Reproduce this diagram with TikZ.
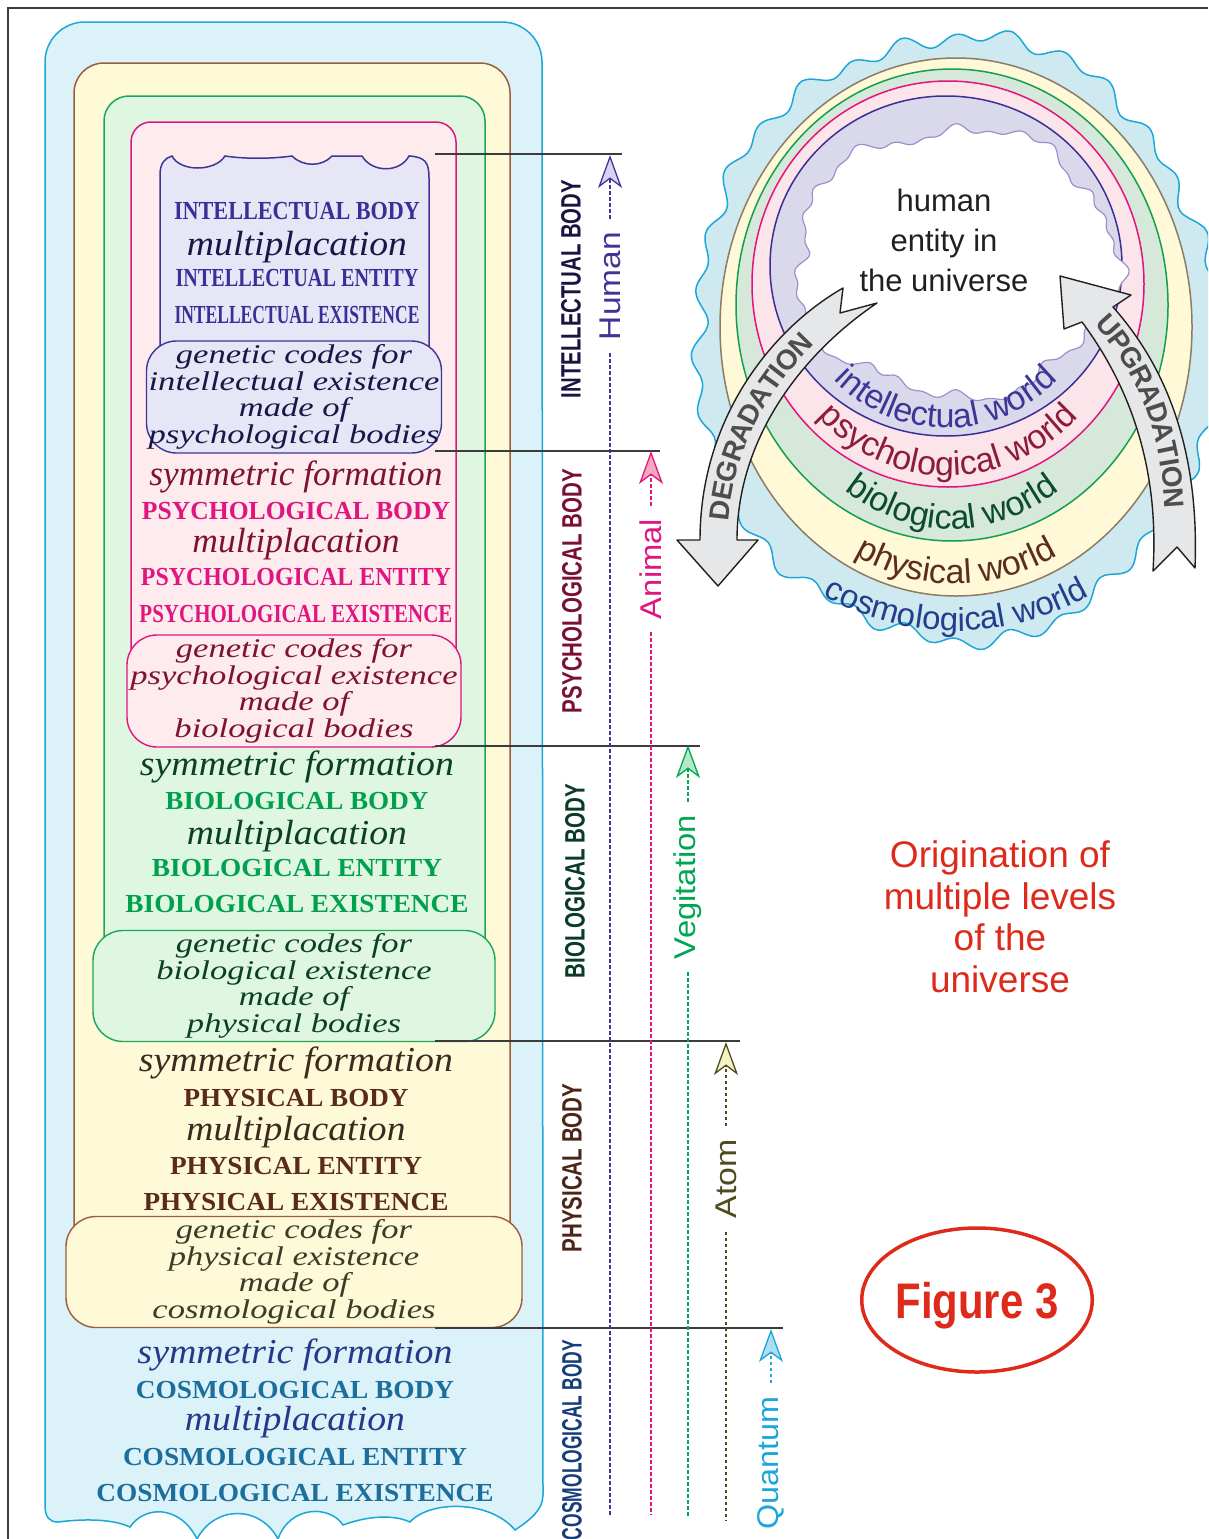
\documentclass[tikz,border=0pt]{standalone}
\usepackage{fontspec}
\setmainfont{Liberation Serif}
\setsansfont{Liberation Sans}
\newfontfamily\genfont[FakeStretch=1.28]{Liberation Serif}
\usepackage{xcolor}
\usepackage{graphicx}
\usepackage{tikz}
\usetikzlibrary{arrows.meta,shapes.geometric,decorations.text}
\definecolor{framegray}{HTML}{3C3C3C}
\definecolor{cosmofill}{HTML}{DAF2F8}
\definecolor{cosmoline}{HTML}{1BA8D8}
\definecolor{physfill}{HTML}{FEF9D6}
\definecolor{physline}{HTML}{9B5D40}
\definecolor{biofill}{HTML}{DFF7E1}
\definecolor{bioline}{HTML}{1BA65A}
\definecolor{psyfill}{HTML}{FDEBED}
\definecolor{psyline}{HTML}{E0157F}
\definecolor{intfill}{HTML}{E6E6F7}
\definecolor{intline}{HTML}{3F3597}
\definecolor{intcaps}{HTML}{3A2F96}
\definecolor{intital}{HTML}{1B1548}
\definecolor{psycaps}{HTML}{E0157F}
\definecolor{psyital}{HTML}{7D1232}
\definecolor{biocaps}{HTML}{00A04E}
\definecolor{bioital}{HTML}{0C3F27}
\definecolor{physcaps}{HTML}{5A2A1C}
\definecolor{physital}{HTML}{3C2A20}
\definecolor{physgen}{HTML}{3B3B2A}
\definecolor{cosmocaps}{HTML}{1C6E9C}
\definecolor{cosmoital}{HTML}{27378A}
\definecolor{intlabel}{HTML}{1A1440}
\definecolor{psylabel}{HTML}{7B1030}
\definecolor{biolabel}{HTML}{0A3B25}
\definecolor{physlabel}{HTML}{4C2518}
\definecolor{cosmolabel}{HTML}{173C7A}
\definecolor{humancol}{HTML}{3F3597}
\definecolor{animalcol}{HTML}{E0157F}
\definecolor{vegcol}{HTML}{00A651}
\definecolor{atomcol}{HTML}{4F4B1E}
\definecolor{quantcol}{HTML}{1BA8D8}
\definecolor{humanfill}{HTML}{D8D3F3}
\definecolor{animalfill}{HTML}{F6A8BE}
\definecolor{vegfill}{HTML}{B5E8C4}
\definecolor{atomfill}{HTML}{F6F1C2}
\definecolor{quantfill}{HTML}{AEDCF0}
\definecolor{blobfill}{HTML}{CFE9F1}
\definecolor{ringyellow}{HTML}{FFF9D8}
\definecolor{ringyline}{HTML}{8C7C66}
\definecolor{ringgreen}{HTML}{D5E8D9}
\definecolor{ringgline}{HTML}{11A04F}
\definecolor{ringpink}{HTML}{FBE5EA}
\definecolor{ringpline}{HTML}{E5127D}
\definecolor{ringpurple}{HTML}{DAD8EB}
\definecolor{ringvline}{HTML}{3B2F95}
\definecolor{coreline}{HTML}{9A90CC}
\definecolor{coretext}{HTML}{231F20}
\definecolor{intworld}{HTML}{3F3597}
\definecolor{psyworld}{HTML}{8E1B3E}
\definecolor{bioworld}{HTML}{0B4B30}
\definecolor{physworld}{HTML}{5C2C1C}
\definecolor{cosmoworld}{HTML}{233E8C}
\definecolor{arrowfill}{HTML}{E6E7E8}
\definecolor{arrowline}{HTML}{231F20}
\definecolor{arrowtext}{HTML}{4D4D4D}
\definecolor{figred}{HTML}{DD2A1B}
\newcommand{\fitw}[2]{\resizebox{#1}{\height}{#2}}
\newcommand{\worldfont}{\sffamily\fontsize{34}{34}\selectfont}
\newcommand{\cosmofont}{\sffamily\fontsize{33}{33}\selectfont}
\newcommand{\arrowfont}{\sffamily\bfseries\fontsize{28}{28}\selectfont}
\tikzstyle{capsline} = [font=\bfseries\fontsize{26}{28}\selectfont, inner sep=0pt]
\tikzstyle{italline} = [font=\itshape\fontsize{35}{36}\selectfont, inner sep=0pt]
\tikzstyle{genbox} = [rectangle, rounded corners=30pt, line width=1.4pt, align=center, inner sep=0pt, font=\genfont\itshape\fontsize{27}{26.7}\selectfont]
\tikzstyle{sidelabel} = [rotate=90, inner sep=0pt, font=\sffamily\bfseries\fontsize{28}{28}\selectfont]
\tikzstyle{kind} = [rotate=90, inner sep=13pt, font=\sffamily\fontsize{30}{30}\selectfont]
\tikzstyle{kindline} = [line width=2pt, dash pattern=on 3.5pt off 2.5pt]
\tikzstyle{divider} = [line width=1.6pt, framegray]
\tikzstyle{bigarrow} = [draw=arrowline, fill=arrowfill, line width=1.4pt, line join=round]
\tikzstyle{ring} = [line width=1.5pt]
\tikzset{kindtip/.style={-{Stealth[length=33pt, width=24pt, inset=9pt, line width=1.3pt, fill=#1]}}}

\begin{document}
\begin{tikzpicture}[x=1pt, y=-1pt]
        \useasboundingbox (0,0) rectangle (1208,1539);
        \clip (0,0) rectangle (1208,1539);
        \draw[line width=2pt, framegray] (8,1539) -- (8,8) -- (1208,8);

        % nested bodies
        \draw[ring, cosmoline, fill=cosmofill] (45,1505) -- (45,62) arc[start angle=180, end angle=270, radius=40] -- (502,22) arc[start angle=270, end angle=360, radius=40] -- (543,1495)
                .. controls (543,1510) and (530,1520) .. (515,1530) .. controls (490,1500) and (430,1500) .. (410,1522)
                .. controls (395,1515) and (370,1515) .. (343,1525) .. controls (330,1505) and (290,1505) .. (278,1539)
                .. controls (260,1505) and (215,1505) .. (197,1539) .. controls (180,1505) and (145,1505) .. (130,1527)
                .. controls (115,1520) and (90,1518) .. (58,1522) .. controls (50,1522) and (45,1518) .. (45,1505) -- cycle;
        \draw[ring, physline, fill=physfill, rounded corners=30pt] (74,63) rectangle (510,1260);
        \draw[ring, bioline, fill=biofill, rounded corners=25pt] (104,96) rectangle (485,990);
        \draw[ring, psyline, fill=psyfill, rounded corners=20pt] (131,122) rectangle (456,690);
        \draw[ring, intline, fill=intfill] (160,400) -- (160,175) .. controls (160,163) and (165,158) .. (172,156)
                .. controls (180,172) and (215,172) .. (225,156) .. controls (245,159) and (270,159) .. (292,156)
                .. controls (303,167) and (322,167) .. (332,156) -- (362,156) .. controls (372,173) and (400,173) .. (409,156)
                .. controls (425,157) and (429,162) .. (429,178) -- (429,400) -- cycle;

        \node (ig) [genbox, draw=intline, fill=intfill, text=intital, minimum width=295pt, minimum height=112pt] at (294,397) {genetic codes for\\intellectual existence\\made of\\psychological bodies};
        \node (pg) [genbox, draw=psyline, fill=psyfill, text=psyital, minimum width=334pt, minimum height=112pt] at (294,691) {genetic codes for\\psychological existence\\made of\\biological bodies};
        \node (bg) [genbox, draw=bioline, fill=biofill, text=bioital, minimum width=402pt, minimum height=111pt] at (294,986) {genetic codes for\\biological existence\\made of\\physical bodies};
        \node (hg) [genbox, draw=physline, fill=physfill, text=physgen, minimum width=456pt, minimum height=111pt] at (294,1272) {genetic codes for\\physical existence\\made of\\cosmological bodies};

        \node (ib) [capsline, text=intcaps] at (297,211) {\fitw{246pt}{INTELLECTUAL BODY}};
        \node (im) [italline, text=intital, below of=ib, node distance=36pt] {\fitw{220pt}{multiplacation}};
        \node (ie) [capsline, text=intcaps, below of=im, node distance=31pt] {\fitw{243pt}{INTELLECTUAL ENTITY}};
        \node (ix) [capsline, text=intcaps, below of=ie, node distance=37pt] {\fitw{245pt}{INTELLECTUAL EXISTENCE}};

        \node (psf) [italline, text=psyital] at (296,477) {\fitw{293pt}{symmetric formation}};
        \node (pb) [capsline, text=psycaps, below of=psf, node distance=34pt] {\fitw{308pt}{PSYCHOLOGICAL BODY}};
        \node (pm) [italline, text=psyital, below of=pb, node distance=33pt] {\fitw{207pt}{multiplacation}};
        \node (pe) [capsline, text=psycaps, below of=pm, node distance=33pt] {\fitw{310pt}{PSYCHOLOGICAL ENTITY}};
        \node (px) [capsline, text=psycaps, below of=pe, node distance=37pt] {\fitw{313pt}{PSYCHOLOGICAL EXISTENCE}};

        \node (bsf) [italline, text=bioital] at (297,767) {\fitw{314pt}{symmetric formation}};
        \node (bb) [capsline, text=biocaps, below of=bsf, node distance=34pt] {\fitw{263pt}{BIOLOGICAL BODY}};
        \node (bm) [italline, text=bioital, below of=bb, node distance=35pt] {\fitw{220pt}{multiplacation}};
        \node (be) [capsline, text=biocaps, below of=bm, node distance=32pt] {\fitw{290pt}{BIOLOGICAL ENTITY}};
        \node (bx) [capsline, text=biocaps, below of=be, node distance=36pt] {\fitw{343pt}{BIOLOGICAL EXISTENCE}};

        \node (hsf) [italline, text=physital] at (296,1063) {\fitw{314pt}{symmetric formation}};
        \node (hb) [capsline, text=physcaps, below of=hsf, node distance=35pt] {\fitw{225pt}{PHYSICAL BODY}};
        \node (hm) [italline, text=physital, below of=hb, node distance=34pt] {\fitw{219pt}{multiplacation}};
        \node (he) [capsline, text=physcaps, below of=hm, node distance=34pt] {\fitw{252pt}{PHYSICAL ENTITY}};
        \node (hx) [capsline, text=physcaps, below of=he, node distance=36pt] {\fitw{305pt}{PHYSICAL EXISTENCE}};

        \node (csf) [italline, text=cosmoital] at (295,1355) {\fitw{315pt}{symmetric formation}};
        \node (cb) [capsline, text=cosmocaps, below of=csf, node distance=35pt] {\fitw{318pt}{COSMOLOGICAL BODY}};
        \node (cm) [italline, text=cosmoital, below of=cb, node distance=32pt] {\fitw{220pt}{multiplacation}};
        \node (ce) [capsline, text=cosmocaps, below of=cm, node distance=35pt] {\fitw{344pt}{COSMOLOGICAL ENTITY}};
        \node (cx) [capsline, text=cosmocaps, below of=ce, node distance=36pt] {\fitw{397pt}{COSMOLOGICAL EXISTENCE}};

        \coordinate (d1a) at (435,154);
        \coordinate (d1b) at (622,154);
        \coordinate (d2a) at (435,451);
        \coordinate (d2b) at (660,451);
        \coordinate (d3a) at (435,746);
        \coordinate (d3b) at (700,746);
        \coordinate (d4a) at (435,1041);
        \coordinate (d4b) at (740,1041);
        \coordinate (d5a) at (435,1328);
        \coordinate (d5b) at (783,1328);
        \draw[divider] (d1a) -- (d1b);
        \draw[divider] (d2a) -- (d2b);
        \draw[divider] (d3a) -- (d3b);
        \draw[divider] (d4a) -- (d4b);
        \draw[divider] (d5a) -- (d5b);

        \node (il) [sidelabel, text=intlabel] at (571,289) {\fitw{218pt}{INTELLECTUAL BODY}};
        \node (pl) [sidelabel, text=psylabel] at (572,591) {\fitw{244pt}{PSYCHOLOGICAL BODY}};
        \node (bl) [sidelabel, text=biolabel] at (575,881) {\fitw{194pt}{BIOLOGICAL BODY}};
        \node (hl) [sidelabel, text=physlabel] at (572,1168) {\fitw{169pt}{PHYSICAL BODY}};
        \node (cl) [sidelabel, text=cosmolabel] at (572,1440) {\fitw{200pt}{COSMOLOGICAL BODY}};

        \node (human) [kind, text=humancol] at (610,286) {\fitw{108pt}{Human}};
        \coordinate (humantip) at (610,155);
        \coordinate (humanend) at (610,1515);
        \draw[kindline, humancol, kindtip=humanfill] (human) -- (humantip);
        \draw[kindline, humancol] (human) -- (humanend);
        \node (animal) [kind, text=animalcol] at (651,569) {\fitw{100pt}{Animal}};
        \coordinate (animaltip) at (651,451);
        \coordinate (animalend) at (651,1515);
        \draw[kindline, animalcol, kindtip=animalfill] (animal) -- (animaltip);
        \draw[kindline, animalcol] (animal) -- (animalend);
        \node (veg) [kind, text=vegcol] at (688,887) {\fitw{144pt}{Vegitation}};
        \coordinate (vegtip) at (688,745);
        \coordinate (vegend) at (688,1517);
        \draw[kindline, vegcol, kindtip=vegfill] (veg) -- (vegtip);
        \draw[kindline, vegcol] (veg) -- (vegend);
        \node (atom) [kind, text=atomcol] at (726,1179) {\fitw{79pt}{Atom}};
        \coordinate (atomtip) at (726,1042);
        \coordinate (atomend) at (726,1520);
        \draw[kindline, atomcol, kindtip=atomfill] (atom) -- (atomtip);
        \draw[kindline, atomcol] (atom) -- (atomend);
        \node (quant) [kind, text=quantcol] at (771,1463) {\fitw{133pt}{Quantum}};
        \coordinate (quanttip) at (771,1329);
        \draw[kindline, quantcol, kindtip=quantfill] (quant) -- (quanttip);

        % worlds
        \draw[ring, cosmoline, fill=blobfill] plot[smooth cycle, samples=240, domain=0:358.5] ({956+(262+6*sin(31*\x)+3*sin(17*\x+30)+5*sin(5*\x+70))*cos(\x)}, {338+(302+6*sin(31*\x)+3*sin(17*\x+30)+5*sin(5*\x+70))*sin(\x)});
        \draw[ring, ringyline, fill=ringyellow] (956,327) ellipse [x radius=236, y radius=269];
        \draw[ring, ringgline, fill=ringgreen] (952,305) ellipse [x radius=216, y radius=236];
        \draw[ring, ringpline, fill=ringpink] (948,284) ellipse [x radius=196, y radius=203];
        \draw[ring, ringvline, fill=ringpurple] (946,266) ellipse [x radius=176, y radius=170];
        \draw[line width=1.2pt, coreline, fill=white] plot[smooth cycle, samples=240, domain=0:358.5] ({956+(160+2.5*sin(31*\x)+6*sin(5*\x+60)+4*sin(11*\x+20)+2*sin(19*\x))*cos(\x)}, {262+(133+2.5*sin(31*\x)+6*sin(5*\x+60)+4*sin(11*\x+20)+2*sin(19*\x))*sin(\x)});
        \node (core) [align=center, text=coretext, font=\sffamily\fontsize{31}{40}\selectfont] at (944,240) {human\\entity in\\the universe};

        \path[decorate, decoration={text along path, text align=center, text color=intworld, text={|\worldfont|intellectual world}}] (788,266) arc[start angle=180, end angle=0, x radius=158, y radius=162];
        \path[decorate, decoration={text along path, text align=center, text color=psyworld, text={|\worldfont|psychological world}}] (768,284) arc[start angle=180, end angle=0, x radius=180, y radius=192];
        \path[decorate, decoration={text along path, text align=center, text color=bioworld, text={|\worldfont|biological world}}] (762,305) arc[start angle=180, end angle=0, x radius=190, y radius=224];
        \path[decorate, decoration={text along path, text align=center, text color=physworld, text={|\worldfont|physical world}}] (734,327) arc[start angle=180, end angle=0, x radius=222, y radius=257];
        \path[decorate, decoration={text along path, text align=center, text color=cosmoworld, text={|\cosmofont|cosmological world}}] (678,338) arc[start angle=180, end angle=0, x radius=278, y radius=293];

        \draw[bigarrow] (843,288) .. controls (770,330) and (700,420) .. (700,540) -- (677,540) -- (718,586) -- (758,540) -- (737,540) .. controls (737,440) and (800,355) .. (877,303) -- (840,313) -- cycle;
        \path[decorate, decoration={text along path, text align={left indent=20pt}, raise=-10pt, text color=arrowtext, text={|\arrowfont|DEGRADATION}}] (718,540) .. controls (718,430) and (785,343) .. (860,296);
        \draw[bigarrow] (1113,307) .. controls (1160,360) and (1200,440) .. (1195,568) -- (1177,547) -- (1153,571) .. controls (1160,460) and (1125,380) .. (1082,322) -- (1064,329) -- (1060,276) -- (1131,295) -- cycle;
        \path[decorate, decoration={text along path, text align={left indent=6pt}, raise=-10pt, text color=arrowtext, text={|\arrowfont|UPGRADATION}}] (1097,314) .. controls (1150,365) and (1183,450) .. (1174,560);

        \node (orig) [align=center, text=figred, font=\sffamily\fontsize{37}{41.5}\selectfont] at (1000,917) {Origination of\\multiple levels\\of the\\universe};
        \node (fig) [ellipse, draw=figred, line width=3.5pt, minimum width=228pt, minimum height=144pt, inner sep=0pt, text=figred, text depth=0pt, font=\sffamily\bfseries\fontsize{50}{50}\selectfont] at (977,1300) {\fitw{163pt}{Figure 3}};
\end{tikzpicture}
\end{document}
